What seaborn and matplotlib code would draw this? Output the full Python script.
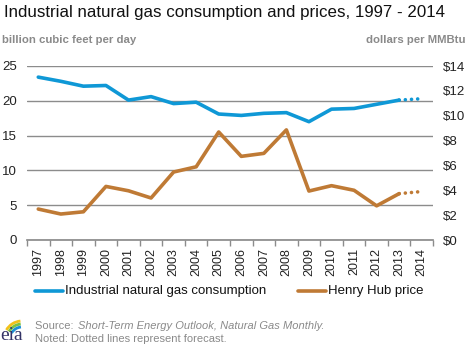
import matplotlib
matplotlib.use("Agg")
import matplotlib.pyplot as plt
import seaborn as sns
import numpy as np
import pandas as pd
from matplotlib.patches import Arc

years = [str(y) for y in range(1997, 2015)]
consumption = [23.4, 22.8, 22.1, 22.2, 20.1, 20.6, 19.6, 19.8, 18.1, 17.9,
               18.2, 18.3, 17.0, 18.8, 18.9, 19.5, 20.1, 20.3]
price = [2.49, 2.09, 2.27, 4.31, 3.96, 3.38, 5.47, 5.89, 8.69, 6.73,
         6.97, 8.86, 3.94, 4.37, 4.00, 2.75, 3.73, 3.90]
left_ticks = [0, 5, 10, 15, 20, 25]
right_ticks = [0, 2, 4, 6, 8, 10, 12, 14]
right_labels = ["$" + str(v) for v in right_ticks]
n_hist = 17  # 1997-2013 history, 2014 forecast

BLUE = "#0f98d6"
BROWN = "#bf7a35"
GRID = "#8c8c8c"

sns.set_theme(style="white")
plt.rcParams['font.family'] = ['Liberation Sans', 'DejaVu Sans']

W, H = 468, 345
fig = plt.figure(figsize=(W / 100, H / 100), dpi=100)
ax = fig.add_axes([27 / W, (H - 240) / H, 406 / W, 174 / H])
ax2 = ax.twinx()

df = pd.DataFrame({"x": np.arange(len(years)), "cons": consumption, "price": price})
hist = df.iloc[:n_hist]
fc = df.iloc[n_hist - 1:]

dot = (0, (0.01, 1.7))
sns.lineplot(data=hist, x="x", y="cons", ax=ax, color=BLUE, lw=2.6)
sns.lineplot(data=fc, x="x", y="cons", ax=ax, color=BLUE, lw=2.6, linestyle=dot,
             dash_capstyle="round")
sns.lineplot(data=hist, x="x", y="price", ax=ax2, color=BROWN, lw=2.6)
sns.lineplot(data=fc, x="x", y="price", ax=ax2, color=BROWN, lw=2.6, linestyle=dot,
             dash_capstyle="round")

ax.set_xlim(-0.5, len(years) - 0.5)
ax.set_ylim(0, 25)
ax2.set_ylim(0, 14)
ax.set_yticks(left_ticks)
ax.set_yticklabels([str(v) for v in left_ticks], fontsize=9.5, color="#222222")
ax2.set_yticks(right_ticks)
ax2.set_yticklabels(right_labels, fontsize=9.5, color="#222222")
for a in (ax, ax2):
    a.set_xlabel("")
    a.set_ylabel("")
    for s in a.spines.values():
        s.set_visible(False)
ax.grid(axis="y", color=GRID, lw=1)
ax.set_axisbelow(True)
ax.tick_params(axis="y", length=0, pad=7.5)
ax2.tick_params(axis="y", length=0, pad=7)

ax.set_xticks(np.arange(len(years)))
ax.set_xticklabels(years, rotation=90, fontsize=9, color="#222222")
ax.set_xticks(np.arange(len(years) + 1) - 0.5, minor=True)
ax.tick_params(axis="x", which="major", length=0, pad=6)
ax.tick_params(axis="x", which="minor", length=4, color=GRID, width=1, bottom=True)
ax.spines["bottom"].set_visible(True)
ax.spines["bottom"].set_color(GRID)

fig.text(4 / W, 1 - 12 / H, "Industrial natural gas consumption and prices, 1997 - 2014",
         fontsize=12.2, color="#111111", va="center", ha="left")
fig.text(2 / W, 1 - 40 / H, "billion cubic feet per day", fontsize=8.2, color="#8a8a8a",
         fontweight="bold", va="center", ha="left")
fig.text(466 / W, 1 - 40 / H, "dollars per MMBtu", fontsize=8.2, color="#8a8a8a",
         fontweight="bold", va="center", ha="right")

# legend
ly = 1 - 291 / H
fig.add_artist(plt.Line2D([35 / W, 63 / W], [ly, ly], color=BLUE, lw=2.6))
fig.text(65 / W, ly, "Industrial natural gas consumption", fontsize=9.5, color="#111111", va="center")
fig.add_artist(plt.Line2D([298 / W, 326 / W], [ly, ly], color=BROWN, lw=2.6))
fig.text(328 / W, ly, "Henry Hub price", fontsize=9.5, color="#111111", va="center")

# footer
fig.text(35 / W, 1 - 326 / H, "Source: ", fontsize=8.0, color="#8a8a8a", va="center")
fig.text(78 / W, 1 - 326 / H, "Short-Term Energy Outlook, Natural Gas Monthly.", fontsize=8.0,
         color="#8a8a8a", va="center", style="italic")
fig.text(35 / W, 1 - 339 / H, "Noted: Dotted lines represent forecast.", fontsize=8.0,
         color="#8a8a8a", va="center")

# eia logo
fig.text(0 / W, 1 - 336 / H, "eia", fontsize=14, family="Liberation Serif", color="#333366",
         va="center", ha="left")
lax = fig.add_axes([0, 0, 34 / W, 34 / H])
lax.set_xlim(0, 34)
lax.set_ylim(0, 34)
lax.axis("off")
for r, c in [(18, "#f2c21b"), (15, "#7cc242"), (12, "#1e90d6")]:
    lax.add_patch(Arc((22, 6), 2 * r, 2 * r, theta1=95, theta2=150, color=c, lw=2))

fig.savefig("out.png", dpi=100)
